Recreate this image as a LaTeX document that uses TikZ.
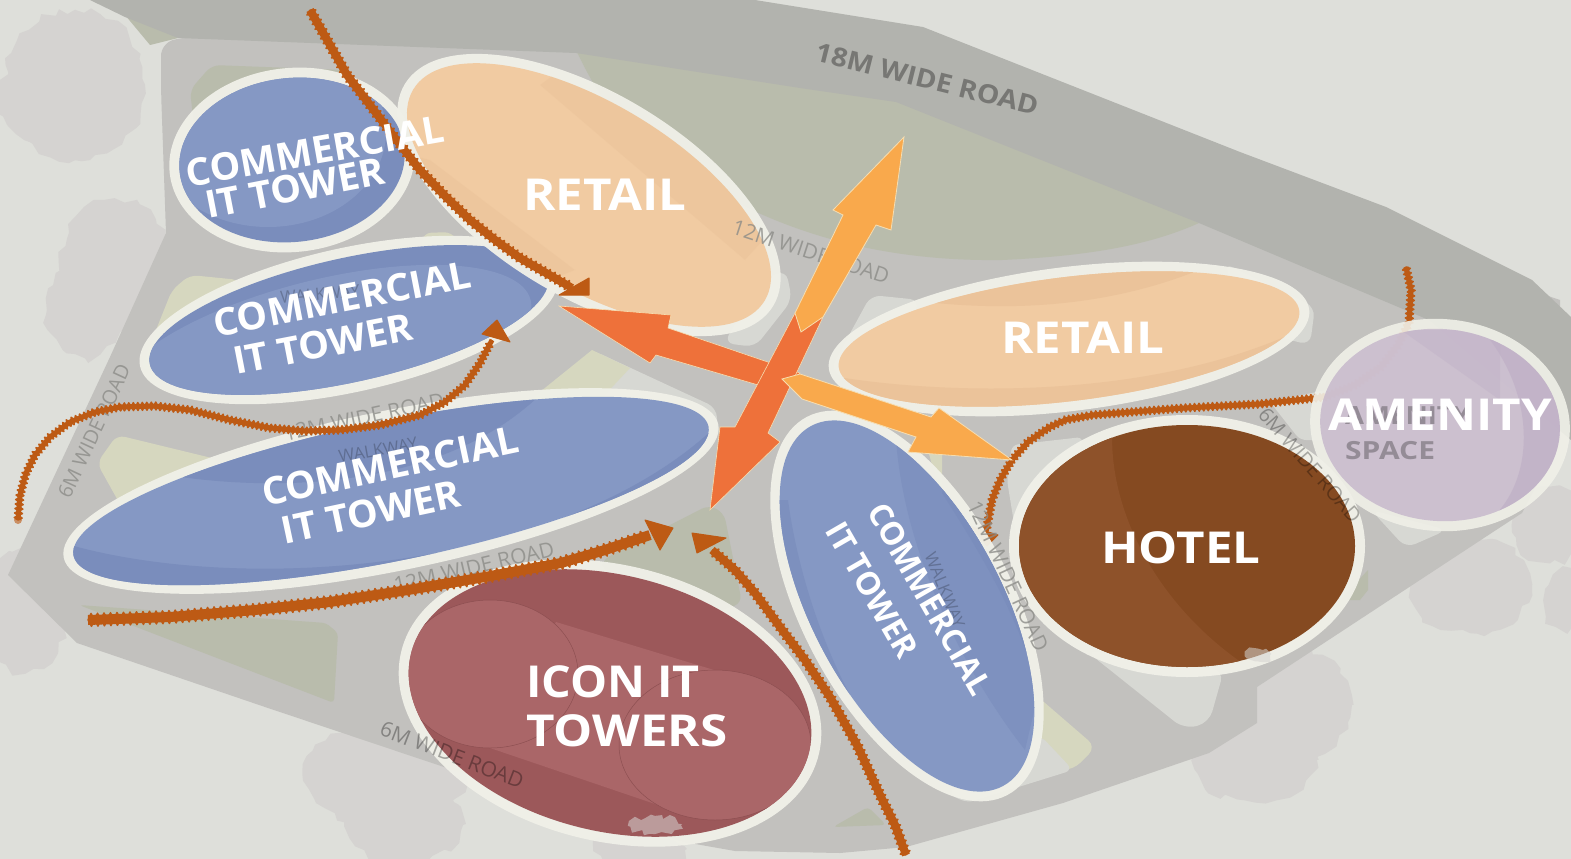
\documentclass[tikz,border=0pt]{standalone}
\usepackage{fontspec}
\setmainfont{Open Sans}
\usetikzlibrary{decorations.pathmorphing}
\definecolor{bg}{HTML}{DEDFDA}
\definecolor{tree}{HTML}{D5D3D1}
\definecolor{road}{HTML}{B2B3AE}
\definecolor{site}{HTML}{C2C1BE}
\definecolor{grn}{HTML}{B9BCAC}
\definecolor{pale}{HTML}{D7D8D3}
\definecolor{yel}{HTML}{D6D7BF}
\definecolor{rim}{HTML}{F0F0E8}
\definecolor{blu}{HTML}{8598C4}
\definecolor{bluD}{HTML}{7A8DBC}
\definecolor{ret}{HTML}{F1CBA2}
\definecolor{retD}{HTML}{EBC39A}
\definecolor{ame}{HTML}{C7B9CC}
\definecolor{ameD}{HTML}{BFAFC6}
\definecolor{hot}{HTML}{854A21}
\definecolor{hotL}{HTML}{8E522A}
\definecolor{ico}{HTML}{9C585A}
\definecolor{icoL}{HTML}{AA6668}
\definecolor{ora}{HTML}{EE713A}
\definecolor{yar}{HTML}{F9A94C}
\definecolor{edge}{HTML}{F6DDB0}
\definecolor{wav}{HTML}{BD5A14}
\definecolor{lbl}{HTML}{8C8C88}
\newcommand{\sx}[2]{\scalebox{#1}[1]{#2}}
\tikzset{
  treeblob/.style={fill=tree,decorate,decoration={random steps,segment length=9,amplitude=4}},
  wavline/.style={draw=wav,decorate,line join=round},
  head/.style={fill=wav,draw=wav,line join=round,line width=1},
  big/.style={text=white,font=\bfseries\fontsize{44}{44}\selectfont,inner sep=0},
  mid/.style={text=white,font=\bfseries\fontsize{38}{38}\selectfont,inner sep=0},
  sml/.style={text=white,font=\bfseries\fontsize{32}{32}\selectfont,inner sep=0},
  road label/.style={text=lbl,font=\fontsize{21}{21}\selectfont,inner sep=0,opacity=.8},
  walk label/.style={text=black,font=\fontsize{17}{17}\selectfont,inner sep=0,opacity=.22},
  ghost label/.style={text=black,font=\bfseries\fontsize{25}{25}\selectfont,inner sep=0,anchor=west,opacity=.27},
  orarrow/.style={fill=ora,draw=edge,line width=.6,line join=miter},
  yelarrow/.style={fill=yar,draw=edge,line width=.8,line join=miter},
}
% #1 cx #2 cy #3 a #4 b #5 rot #6 colour #7 patches
\newcommand{\capsule}[7]{%
  \fill[rim,opacity=.96,shift={(#1,#2)},rotate=#5] (0,0) ellipse ({#3+10} and {#4+10});
  \fill[#6,shift={(#1,#2)},rotate=#5] (0,0) ellipse (#3 and #4);
  \begin{scope}
    \clip[shift={(#1,#2)},rotate=#5] (0,0) ellipse (#3 and #4);
    #7
  \end{scope}}
% #1 neck width, #2 bead period, #3 bead half-width, #4 points
\newcommand{\wavy}[4]{%
  \draw[draw=wav,line width=#1,line join=round] plot coordinates {#4};
  \draw[wavline,line width=1.4,decoration={zigzag,segment length=#2,amplitude=#3}] plot coordinates {#4};
  \draw[wavline,line width=1.4,decoration={zigzag,segment length=#2,amplitude=#3,mirror}] plot coordinates {#4};}
\begin{document}
\begin{tikzpicture}[x=1pt,y=-1pt]
\pgfmathsetseed{7}
\useasboundingbox (0,0) rectangle (1571,859);
\fill[bg] (0,0) rectangle (1571,859);
% trees
\begin{scope}
\clip (0,0) rectangle (1571,859);
\fill[treeblob] (75,85) ellipse (70 and 75);
\fill[treeblob] (30,100) ellipse (32 and 40);
\fill[treeblob] (115,265) ellipse (55 and 65);
\fill[treeblob] (85,310) ellipse (38 and 48);
\fill[treeblob] (25,610) ellipse (42 and 62);
\fill[treeblob] (385,775) ellipse (82 and 50);
\fill[treeblob] (405,825) ellipse (58 and 38);
\fill[treeblob] (1290,705) ellipse (62 and 58);
\fill[treeblob] (1255,760) ellipse (62 and 42);
\fill[treeblob] (1470,585) ellipse (62 and 48);
\fill[treeblob] (1550,525) ellipse (38 and 38);
\fill[treeblob] (1565,600) ellipse (20 and 30);
\fill[treeblob] (640,850) ellipse (45 and 18);
\end{scope}
% site
\fill[site] [rounded corners=14] (183,38) -- (161,42) -- (161,90) [sharp corners] -- (166,233) -- (110,357) -- (8,575) -- (77,643) -- (265,707) -- (444,767) -- (684,842) -- (735,851) -- (840,853) -- (906,847) -- (1063,803) -- (1209,753) -- (1257,723) -- (1257,687) -- (1522,513) -- (1560,440) -- (1560,300) -- (800,40) -- cycle;
% green areas
\fill[grn] (576,50) .. controls (600,100) and (620,130) .. (680,170) .. controls (760,222) and (860,262) .. (1002,260) .. controls (1090,256) and (1150,245) .. (1199,223) -- (896,90) -- cycle;
\fill[grn] (125,15) -- (150,45) -- (178,38) -- (140,10) -- cycle;
\fill[grn,rounded corners=8] (212,65) -- (345,70) -- (345,180) -- (200,180) -- (190,90) -- cycle;
\fill[grn,rounded corners=4] (79,605) -- (326,623) -- (338,633) -- (334,703) -- cycle;
\fill[grn,rounded corners=8] (709,505) -- (724,513) -- (742,603) -- (714,613) -- (602,570) -- (602,560) -- cycle;
\fill[grn,rounded corners=4] (868,807) -- (886,825) -- (833,827) -- cycle;
% pale patches
\fill[yel,rounded corners=8] (190,275) -- (240,280) -- (230,370) -- (140,370) -- (172,290) -- cycle;
\fill[yel,rounded corners=8] (423,233) -- (452,232) -- (470,260) -- (420,260) -- cycle;
\fill[pale,rounded corners=10] (592,350) -- (717,408) -- (717,440) -- (680,470) -- (540,420) -- cycle;
\fill[yel] (592,350) -- (630,368) -- (600,400) -- (530,400) -- cycle;
\fill[yel,rounded corners=8] (117,435) -- (220,460) -- (140,540) -- (97,463) -- cycle;
\fill[pale,rounded corners=10] (786,270) -- (792,300) -- (755,347) -- (724,343) -- (760,280) -- cycle;
\fill[pale,rounded corners=10] (871,295) -- (920,300) -- (880,400) -- (830,370) -- cycle;
\fill[pale,rounded corners=10] (1224,263) -- (1315,307) -- (1310,345) -- (1250,330) -- cycle;
\fill[pale,rounded corners=6] (1012,445) -- (1083,437) -- (1060,560) -- (1020,560) -- (1007,480) -- cycle;
\fill[pale,rounded corners=6] (1270,402) -- (1335,388) -- (1340,440) -- (1300,440) -- cycle;
\fill[pale,rounded corners=12] (1085,650) -- (1184,729) -- (1209,723) -- (1224,670) -- cycle;
\fill[pale,rounded corners=10] (1371,510) -- (1406,548) -- (1447,530) -- cycle;
\fill[yel,rounded corners=10] (1030,690) -- (1096,747) -- (1073,770) -- (1000,770) -- cycle;
\fill[pale,rounded corners=8] (1040,735) -- (1073,770) -- (967,803) -- (947,793) -- cycle;
\fill[yel,rounded corners=4] (925,440) -- (942,440) -- (942,500) -- cycle;
\fill[grn] (1340,600) -- (1368,570) -- (1368,590) -- (1360,600) -- cycle;
% road 18m
\fill[road] (90,0) -- (125,17) -- (178,38) -- (576,53) -- (800,88) -- (896,102) -- (1199,223) -- (1429,320) -- (1571,440) -- (1571,317) -- (1532,280) -- (1386,207) -- (1240,152) -- (923,27) -- (755,0) -- cycle;
\node[text=lbl!85!black,font=\bfseries\fontsize{26}{26}\selectfont,inner sep=0,rotate=-14] (l18) at (927,79) {\sx{1.09}{18M WIDE ROAD}};
\node[road label,rotate=65,font=\fontsize{20}{20}\selectfont] (l6a) at (94,431) {6M WIDE ROAD};
% wavy arrow behind amenity
\wavy{5}{9}{4}{(1406,267) (1411,290) (1409,323) (1398,345) (1381,367) (1355,385) (1325,397) (1260,404) (1184,408) (1093,415) (1065,420) (1048,428) (1028,442) (1012,460) (1000,480) (992,500) (986,532)}
\fill[head] (972,527) -- (998,535) -- (987,546) -- cycle;
% capsules
\capsule{292}{160}{113}{82}{6}{bluD}{\fill[blu] (268,132) ellipse (118 and 95);}
\capsule{349}{320}{204}{62}{12.5}{bluD}{\fill[blu,rotate around={14:(322,352)}] (322,352) ellipse (215 and 72);}
\capsule{391}{491}{324}{70}{11.5}{blu}{
  \fill[bluD] (100,460) .. controls (200,490) and (420,510) .. (540,395) -- (300,370) -- cycle;
  \fill[bluD] (70,545) .. controls (250,595) and (560,570) .. (712,430) -- (760,640) -- (60,640) -- cycle;}
\capsule{589}{195}{205}{92}{-31}{ret}{
  \fill[retD,opacity=.5] (540,85) -- (745,260) -- (800,200) -- (600,40) -- cycle;
  \fill[retD,opacity=.5] (430,160) -- (575,270) -- (500,300) -- (390,150) -- cycle;}
\capsule{1069}{339}{232}{62}{7}{ret}{
  \fill[retD] (926,302) .. controls (1000,310) and (1100,310) .. (1199,270) -- (1150,240) -- (900,260) -- cycle;
  \fill[retD] (838,377) .. controls (950,395) and (1150,400) .. (1300,330) -- (1320,420) -- (830,420) -- cycle;}
\capsule{907}{606}{204}{95}{-62}{blu}{
  \fill[bluD!60!blu] (896,440) .. controls (905,560) and (970,680) .. (1025,750) -- (1060,600) -- (960,420) -- cycle;
  \fill[bluD] (942,493) .. controls (985,560) and (1020,620) .. (1038,690) -- (1060,600) -- (960,420) -- cycle;
  \fill[bluD!70!blu] (788,500) .. controls (800,590) and (840,700) .. (896,763) -- (800,780) -- (760,500) -- cycle;}
\capsule{610}{703}{205}{128}{-14}{ico}{
  \fill[icoL] (556,622) -- (714,670) -- (760,800) -- (658,805) -- (490,748) -- cycle;
  \fill[icoL] (490,674) ellipse (88 and 74);
  \fill[icoL] (715,745) ellipse (96 and 75);
  \draw[ico!90!black,line width=.5] (490,674) ellipse (88 and 74);
  \draw[ico!90!black,line width=.5] (715,745) ellipse (96 and 75);}
\capsule{1187}{546}{168}{121}{0}{hot}{
  \fill[hotL] (1113,420) .. controls (1105,500) and (1150,600) .. (1245,665) -- (1000,680) -- (1000,420) -- cycle;}
\fill[rim,opacity=.9,shift={(1440,425)},rotate=-5] (0,0) ellipse (130 and 106);
\fill[ame,opacity=.86,shift={(1440,425)},rotate=-5] (0,0) ellipse (120 and 96);
\begin{scope}
  \clip[shift={(1440,425)},rotate=-5] (0,0) ellipse (120 and 96);
  \fill[ameD,opacity=.7] (1490,340) .. controls (1535,400) and (1535,480) .. (1490,520) -- (1600,520) -- (1600,340) -- cycle;
  \fill[ameD,opacity=.4] (1401,330) -- (1500,400) -- (1500,330) -- cycle;
\end{scope}
% small tree traces over the capsules
\fill[tree,opacity=.55,decorate,decoration={random steps,segment length=5,amplitude=3}] (655,825) ellipse (26 and 9);
\fill[tree,opacity=.55,decorate,decoration={random steps,segment length=5,amplitude=3}] (1258,655) ellipse (12 and 6);
% labels seen through the capsules
\node[road label,rotate=-18] (l12a) at (811,252) {12M WIDE ROAD};
\node[road label,rotate=12] (l12b) at (364,417) {12M WIDE ROAD};
\node[road label,rotate=13] (l12c) at (474,567) {12M WIDE ROAD};
\node[road label,rotate=-65] (l12d) at (1008,576) {12M WIDE ROAD};
\node[road label,rotate=-21,text=black,opacity=.32] (l6b) at (452,755) {6M WIDE ROAD};
\node[road label,rotate=-49,text=black,opacity=.3,font=\fontsize{20}{20}\selectfont] (l6c) at (1310,465) {6M WIDE ROAD};
\node[walk label,rotate=5] (w1) at (320,294) {WALKWAY};
\node[walk label,rotate=10] (w2) at (378,450) {WALKWAY};
\node[walk label,rotate=-68] (w3) at (945,590) {WALKWAY};
\node[ghost label] (am0) at (1345,416) {\sx{1.1}{AMENITY}};
\node[ghost label] (sp) at (1345,451) {\sx{1.2}{SPACE}};
% block arrows
\fill[orarrow] (800,373) -- (668,328) -- (671,315) -- (559,306) -- (650,363) -- (656,355) -- (782,392) -- cycle;
\fill[orarrow] (795,313) -- (735,427) -- (720,427) -- (710,510) -- (780,442) -- (768,433) -- (823,317) -- cycle;
\fill[yelarrow] (795,313) -- (843,215) -- (833,210) -- (904,137) -- (891,230) -- (876,225) -- (823,317) -- (801,332) -- cycle;
\fill[yelarrow] (782,379) -- (800,374) -- (931,417) -- (939,408) -- (1012,460) -- (908,452) -- (916,437) -- (802,399) -- cycle;
% wavy arrows
\wavy{8}{11}{5.2}{(310,10) (330,45) (347,75) (370,105) (395,138) (420,170) (445,196) (470,220) (495,240) (520,258) (572,288)}
\fill[head] (589,278) -- (559,295) -- (589,295) -- cycle;
\wavy{5}{9}{4}{(18,520) (20,495) (26,473) (35,455) (50,437) (70,422) (95,412) (120,407) (155,406) (190,410) (230,420) (270,428) (305,431) (340,430) (380,425) (420,415) (445,402) (465,385) (480,363) (492,340)}
\fill[head] (497,320) -- (482,334) -- (510,342) -- cycle;
\wavy{10}{13}{6.5}{(88,620) (170,617) (255,610) (330,602) (408,590) (485,577) (561,563) (605,550) (650,535)}
\fill[head] (645,520) -- (673,528) -- (660,550) -- cycle;
\wavy{8}{11}{5.2}{(906,855) (895,825) (881,797) (857,745) (830,697) (805,660) (780,627) (755,593) (735,570) (712,550)}
\fill[head] (692,533) -- (726,538) -- (697,553) -- cycle;
\fill[wav,opacity=.6] (18,520) circle (4);
% white texts
\node[mid,rotate=10] (t1a) at (315,151) {\sx{1.02}{COMMERCIAL}};
\node[mid,rotate=11] (t1b) at (295,188) {\sx{1.02}{IT TOWER}};
\node[mid,rotate=11] (t2a) at (342,299) {\sx{1.02}{COMMERCIAL}};
\node[mid,rotate=11] (t2b) at (323,344) {\sx{1.02}{IT TOWER}};
\node[mid,rotate=12] (t3a) at (390,466) {\sx{1.02}{COMMERCIAL}};
\node[mid,rotate=12] (t3b) at (371,512) {\sx{1.02}{IT TOWER}};
\node[sml,rotate=-60] (t5a) at (930,599) {COMMERCIAL};
\node[sml,rotate=-60] (t5b) at (872,590) {IT TOWER};
\node[big] (r1) at (605,195) {\sx{1.12}{RETAIL}};
\node[big] (r2) at (1083,338) {\sx{1.12}{RETAIL}};
\node[big] (am) at (1440,415) {\sx{1.12}{AMENITY}};
\node[big] (ho) at (1181,548) {\sx{1.12}{HOTEL}};
\node[big] (ic) at (613,682) {\sx{1.06}{ICON IT}};
\node[big] (to) at (627,731) {\sx{1.12}{TOWERS}};
\end{tikzpicture}
\end{document}
